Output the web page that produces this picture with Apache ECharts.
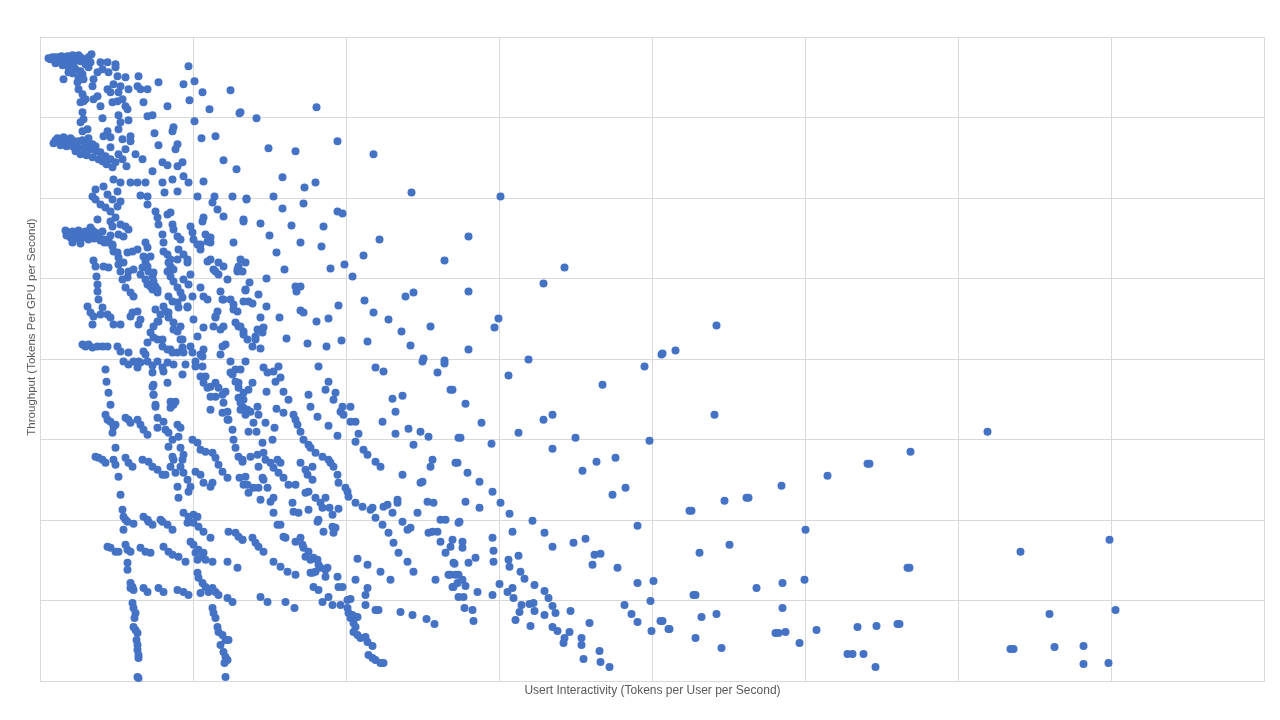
<!DOCTYPE html>
<html>
<head>
<meta charset="utf-8">
<script src="https://cdn.jsdelivr.net/npm/echarts@6/dist/echarts.min.js"></script>
<style>
  html, body { margin: 0; padding: 0; background: #fff; }
  #chart { width: 1280px; height: 720px; }
</style>
</head>
<body>
<div id="chart"></div>
<script>
// values, in the chart's own (unlabelled) units
const xTitle = 'Usert Interactivity (Tokens per User per Second)'
const yTitle = 'Throughput (Tokens Per GPU per Second)'

const topCluster = [
  [8,622],[12,623],[15,623],[18,623],[21,624],[24,623],[27,624],[30,623],[32,625],[35,624],[38,625],[40,623],
  [20,620],[25,619],[30,619],[35,620],[40,619],[45,621],[48,623],[51,626],[15,617],[22,615],[28,613],[35,611],
  [40,609],[32,607],[38,603],[42,606],[10,621],[17,620],[26,616],[33,615],[45,616],[50,618],[48,613],[30,611],
  [23,601],[28,608],[37,598],[40,604],[43,601],[38,591],[42,586],[43,579],[40,578],[45,581],[52,594],[53,601],
  [57,608],[60,618],[62,611],[67,618],[68,608],[75,616],[75,613],[77,604],[85,603],[98,604],[118,598],[148,614],
  [143,596],[154,599],[162,588],[190,590],[169,571],[199,567]
]

const upperBand = [
  [73,596],[80,594],[88,591],[78,588],[70,588],[67,591],[57,584],[53,581],[60,574],[72,578],[77,579],[82,581],
  [85,574],[87,571],[97,594],[100,591],[107,591],[103,578],[127,574],[149,580],[107,564],[112,565],[78,565],
  [62,562],[42,568],[43,561],[40,558],[88,560],[80,558],[78,551],[67,549],[90,544],[82,541],[70,543],[63,544],
  [42,549],[47,551],[114,547],[132,549],[133,553],[154,559],[161,542],[175,544],[118,535],[137,536],[135,531],
  [122,518],[127,515],[137,514],[142,518],[143,504],[132,501],[122,498],[112,509],[102,521],[95,526],[85,531],
  [90,539],[183,520],[196,511],[163,499],[148,498],[157,484],[174,484],[192,484],[206,482],[137,489],[124,488],
  [107,484],[100,485],[90,498],[97,498],[105,498],[80,498],[73,501],[63,494],[55,491],[52,484],[67,486],[77,489]
]

const secondCluster = [
  [15,540],[18,539],[22,540],[25,538],[28,539],[32,540],[35,538],[38,539],[42,540],[45,537],[48,538],[52,536],
  [55,534],[20,535],[26,534],[32,534],[38,533],[44,532],[50,531],[56,529],[60,528],[35,529],[40,526],[46,525],
  [52,523],[58,521],[62,519],[66,516],[70,521],[65,524],[72,513],[75,518],[70,533],[78,526],[82,521],[86,514],
  [13,537],[17,542],[23,543],[30,542],[48,542]
]

const thirdCluster = [
  [25,450],[28,448],[32,449],[35,447],[38,450],[42,448],[45,449],[48,447],[52,450],[55,448],[58,446],[62,449],
  [30,443],[36,442],[42,443],[48,441],[54,442],[60,440],[64,438],[68,441],[72,436],[70,445],[32,438],[40,437],
  [26,445],[50,453],
  [63,441],[68,438],[72,434],[73,429],[77,428],[78,423],[83,418],[87,428],[92,429],[97,431],[103,424],[105,419],
  [107,414],[108,409],[112,404],[113,399],[115,394],[117,391],[112,391],[107,396],[105,401],[100,406],[102,413],
  [93,411],[88,409],[87,403],[82,401],[85,393],[90,388],[93,384],[80,409],[78,416],[68,413],[63,414],[72,454],
  [70,459],[75,463],[80,456],[85,454],[88,451],[78,446],[83,444],
  [60,476],[65,473],[70,469],[77,474],[80,479],[57,461],[55,481],[72,481]
]

const leftColumns = [
  [55,414],[56,404],[57,396],[57,389],[58,381],[53,420],[47,374],[50,368],[53,364],[52,356],[62,373],[60,366],
  [67,366],[70,363],[73,356],[80,356],[42,336],[45,334],[48,336],[52,333],[57,334],[62,334],[67,334],[77,334],
  [80,329],[88,328],[90,364],[92,368],[97,369],[98,356],[100,361],
  [65,311],[66,299],[68,288],[70,276],[65,266],[67,261],[70,259],[73,254],[72,248],[75,256],
  [85,263],[88,261],[90,258],[97,261],[100,256],[103,251],[107,246],
  [55,224],[58,223],[62,221],[65,218],[73,221],[75,233],[75,216],[78,204],[80,186],[82,171],[85,223],[88,218],
  [92,214],[102,221],[108,219],[112,214],[117,211],[122,206],[125,206],[130,214],[133,221],
  [103,164],[107,161],[120,161],[83,164],[85,161],
  [87,159],[93,157],[83,151],[108,159],[112,156],[122,159],[127,156],[132,151],[147,158],[153,158],[158,154],
  [163,149],[170,143],[188,149],[195,148],[198,144],[202,141],
  [67,134],[70,133],[75,129],[78,129],[85,136],[87,131],[90,129],[100,133],[105,129],[110,128],[123,134],
  [128,129],[132,126],[138,124],[145,119],[150,139],[153,136],[155,128],[158,131],[162,124],[163,128],[157,121],
  [165,121],[172,119],[187,119],[197,113],[87,118],[87,111],[157,108],[158,103],
  [90,98],[92,94],[93,91],[90,93],[103,93],[107,89],[118,93],[123,89],[137,91],[143,89],[148,86],[160,88],
  [165,94],[168,89],[172,93],[175,89],[178,86],[162,98],[187,83],[192,79],
  [92,78],[93,73],[95,68],[93,54],[97,48],[95,51],[97,31],[98,26],[98,23],[97,4],[98,3],[94,63],[96,41],[97,36],
  [172,73],[173,68],[175,63],[177,54],[178,49],[182,46],[185,41],[188,41],[183,29],[185,24],[187,21],[185,4],
  [180,36],[184,18]
]

const innerBand = [
  [107,476],[115,469],[117,463],[118,456],[122,446],[123,438],[123,429],[127,426],[130,421],[130,414],[127,409],
  [130,404],[133,399],[137,393],[140,388],[142,383],[137,378],[128,384],[127,466],[130,468],[132,456],[133,451],
  [137,444],[138,431],[143,426],[147,421],[150,454],[152,448],[153,441],[157,436],[160,431],[162,459],[163,463],
  [170,443],[167,439],[170,421],[173,411],[178,406],[183,414],[187,401],[197,409],[198,414],[177,471],[183,464],
  [193,438],[172,478],[203,461],[190,381],[193,376],[197,369],[182,381],[175,363],[177,369],[173,354],[183,354],
  [198,354],[203,349],[163,353],[153,361],[157,344],[150,334],[152,328],[142,341],[140,354],[137,349],[133,358],
  [128,368],[123,374],[120,366],[117,359],[113,354],[110,348],[107,338],[103,329],[117,341],[122,334],[130,331],
  [137,328],[142,333],[163,331],[182,334],[180,326],[162,324],[143,401],[150,406],[160,393],[163,384],[167,381],
  [147,374],
  [105,438],[107,433],[110,424],[113,408],[110,394],[117,388],[128,418],[133,411],[137,421],[140,441],[147,418],
  [148,396],[152,384],[147,373],[138,373],[132,379],[125,369],[115,371],[118,359],[128,363],[133,351],[140,341],
  [143,328],[132,328],[127,331],[122,341],[113,343],[105,326],[98,319],[160,436],[167,419],[165,446],[170,438],
  [178,418],[175,409],[180,389],[175,364],[180,351],[185,336],[183,381],[193,371],[195,358],[197,411],[200,421],
  [205,391],[208,379],[217,351],[215,341],[205,319],[160,326],[155,319],[162,314],[165,304],[170,294],[175,284],
  [185,289],[190,308],[195,311],[198,298],[203,281],[200,271],[207,271],[170,271],[182,268],[187,261],[123,309],
  [127,298],[113,296],[113,286],[115,274],[130,279],[133,278],
  [83,319],[88,316],[93,319],[97,313],[100,318],[107,319],[112,315],[117,319],[122,313],[127,318],[133,316],
  [142,306],[145,316],[155,314],[160,304],[163,298],[167,293],[170,284],[175,298],[178,293],[182,286],[183,278],
  [187,269],[190,319],[192,306],[195,299],[198,293],[198,283],[203,273],[205,266],[188,261],[192,251],[193,241],
  [195,233],[198,224],[202,219],[199,203],[203,196],[208,188],
  [112,308],[112,294],[113,286],[115,276],[117,263],[117,253],[123,259],[125,251],[128,248],[132,241],[128,234],
  [132,224],[133,276],[135,279],[130,273],[137,256],[140,253],[138,244],[140,233],[143,226],[142,221],[140,214],
  [135,208],[143,208],[147,201],[150,194],[148,189],[137,194],[138,183],[143,168],[153,166],[148,164],[157,164],
  [152,241],[157,238],[160,231],[165,229],[172,228],[175,223],[178,216],[182,209],[187,203],[155,209],[160,206],
  [163,198],[170,194],[172,198]
]

const midField = [
  [200,568],[216,562],[276,573],[297,539],[333,526],[228,532],[255,529],[242,503],[264,493],[275,498],[206,481],
  [233,484],[263,477],[242,472],[297,469],[302,467],[371,488],[203,459],[220,457],[251,455],[283,454],[229,445],
  [260,438],[281,434],[339,441],[236,428],[323,425],[205,418],[202,409],[244,411],[290,412],[304,416],[312,404],
  [404,420],[226,402],[209,398],[255,394],[260,394],[256,389],[205,390],[218,386],[203,379],[212,377],[226,374],
  [260,370],[263,368],[298,375],[324,380],[365,384],[373,388],[333,368],[348,361],[220,363],[239,363],[276,359],
  [288,362],[200,354],[223,353],[222,348],[203,346],[215,344],[207,341],[246,342],[267,337],[286,334],[301,340],
  [327,339],[361,349],[370,335],[390,354],[212,334],[220,332],[383,322],[404,320]
]

const lowerField = [
  [200,311],[223,313],[227,308],[233,309],[238,314],[235,299],[240,303],[278,314],[335,313],[343,309],[382,319],
  [397,308],[404,317],[212,298],[208,291],[203,288],[226,289],[243,289],[248,281],[268,286],[288,299],[285,291],
  [295,288],[293,281],[352,282],[362,285],[410,291],[355,269],[200,278],[205,271],[210,269],[217,274],[218,266],
  [236,272],[243,268],[253,266],[255,261],[270,274],[277,264],[302,274],[300,269],[303,266],[310,274],[310,259],
  [315,259],[342,259],[213,258],[208,249],[216,249],[225,258],[234,253],[257,256],[260,249],[288,255],[297,245],
  [318,247],[315,239],[355,247],[368,252],[380,249],[388,244],[373,236],[418,243],[222,238],[232,241],[263,241],
  [268,236],[270,233],[275,228],[282,224],[288,221],[290,218],[293,214],[297,206],[298,198],[323,231],[327,226],
  [335,219],[340,214],[392,221],[390,214],[415,218],[202,221],[210,224],[217,226],[223,228],[225,221],[230,218],
  [233,213],[237,221],[240,218],[238,208],[243,203],[248,196],[255,196],[218,214],[222,203],[223,201],[205,204],
  [207,196],[213,193],[218,193],[227,193],[230,179],[220,181],[233,183],[260,218],[265,211],[267,206],[272,214],
  [272,201],[268,189],[265,188],[275,183],[280,178],[285,183],[282,173],[289,173],[292,166],[298,172],[252,178],
  [253,169],[258,168],[268,171],[233,168],[237,156],[240,156],[278,161],[277,159],[283,149],[292,154],[293,148],
  [295,153],[305,193],[307,189],[308,184],[315,178],[322,174],[330,171],[332,173],[335,163],[342,156],[348,148],
  [353,138],[358,128],[367,119],[373,109],[343,174],[347,176],[352,168],[357,178],[362,159],[367,151],[370,153],
  [377,168],[387,179],[393,178],[380,198],[382,199],[362,206],[357,181],[388,148],[397,149],[392,149],[400,161],
  [405,161],[418,158],[400,139],[405,128],[410,134],[413,118],[415,106],[408,106],[412,94],[417,98],[395,101],
  [418,84],[202,141],[212,143],[215,138],[218,134],[223,129],[233,119],[240,114],[247,109],[255,106],[243,144],
  [245,143],[255,139],[260,143],[262,136],[263,133],[265,124],[268,129],[270,121],[273,123],[277,121],[278,116],
  [280,113],[285,111],[287,113],[272,108],[270,108],[275,109],[285,104],[297,104],[298,94],[302,94],[273,94],
  [278,91],[282,79],[288,84],[292,76],[300,76],[307,81],[310,82],[307,73],[315,101],[317,122],[327,116],[327,93],
  [325,86],[325,76],[340,109],[350,101],[335,71],[338,71],[360,69],[372,66],[386,62],[394,57],[220,84],[227,79],
  [245,79],[254,73],[308,68],[310,63],[313,58],[315,54],[313,49],[317,46],[320,43],[325,44],[327,39],[332,35],
  [328,26],[332,23],[335,21],[340,18],[343,18],[317,64],[312,66]
]

const rightField = [
  [460,484],[428,444],[524,413],[428,389],[503,397],[458,362],[454,353],[428,331],[488,321],[468,305],[412,291],
  [425,277],[441,258],[512,266],[503,261],[478,248],[420,243],[451,237],[535,243],[512,232],[417,218],[427,208],
  [439,199],[452,189],[460,178],[425,179],[439,173],[469,167],[419,159],[492,160],[472,149],[504,148],[412,141],
  [422,139],[422,133],[452,143],[453,130],[512,134],[533,138],[545,142],[435,123],[428,118],[414,117],[453,119],
  [468,121],[478,125],[469,114],[554,126],[560,127],[552,116],[577,113],[410,106],[418,106],[422,101],[413,94],
  [425,95],[437,89],[459,97],[467,89],[472,93],[480,109],[484,102],[494,96],[504,90],[508,83],[473,83],[452,86],
  [423,84],[481,76],[489,77],[493,78],[512,75],[515,68],[504,66],[494,70],[479,69],[475,61],[490,55],[512,54],
  [517,50],[530,70],[529,49],[524,43],[523,38],[541,43],[541,36],[543,22],[549,58],[559,30],[560,19],[569,14],
  [424,73],[432,71],[433,60],[584,76],[591,67],[597,59],[597,98],[613,100],[610,80],[611,50],[620,60],[628,52],
  [604,314],[562,296],[621,326],[609,240],[575,223],[556,219],[542,210],[585,193],[572,186],[597,155]
]

const farRight = [
  [676,355],[622,327],[635,330],[674,266],[870,229],[827,217],[829,217],[787,205],[741,195],[706,183],[708,183],
  [684,180],[649,170],[651,170],[765,151],[689,136],[659,128],[867,113],[869,113],[742,98],[764,101],[716,93],
  [653,86],[655,86],[742,73],[622,60],[629,52],[661,64],[676,67],[655,43],[681,33],[735,48],[738,48],[745,49],
  [759,38],[776,51],[807,27],[812,27],[823,27],[835,14],[817,54],[836,55],[857,57],[859,57],
  [947,249],[1069,141],[980,129],[1009,67],[1075,71],[970,32],[973,32],[1014,34],[1043,35],[1043,17],[1068,18]
]

const points = [].concat(topCluster, upperBand, secondCluster, thirdCluster, leftColumns,
  innerBand, midField, lowerField, rightField, farRight)

const gridColor = '#d9d9d9'
const textColor = '#595959'

const chart = echarts.init(document.getElementById('chart'))
chart.setOption({
  animation: false,
  grid: { left: 40.5, right: 15.5, top: 37, bottom: 39 },
  xAxis: {
    type: 'value',
    min: 0,
    max: 1224,
    interval: 153,
    name: xTitle,
    nameLocation: 'middle',
    nameGap: 4,
    nameTextStyle: { color: textColor, fontFamily: 'Liberation Sans', fontSize: 12, verticalAlign: 'top' },
    axisLine: { show: true, lineStyle: { color: gridColor } },
    axisTick: { show: false },
    axisLabel: { show: false },
    splitLine: { show: true, lineStyle: { color: gridColor, width: 1 } }
  },
  yAxis: {
    type: 'value',
    min: 0,
    max: 643.2,
    interval: 80.4,
    name: yTitle,
    nameLocation: 'middle',
    nameGap: 3,
    nameTextStyle: { color: textColor, fontFamily: 'Liberation Sans', fontSize: 11.5, padding: [0, 0, 0, 64] },
    axisLine: { show: true, lineStyle: { color: gridColor } },
    axisTick: { show: false },
    axisLabel: { show: false },
    splitLine: { show: true, lineStyle: { color: gridColor, width: 1 } }
  },
  series: [{
    type: 'scatter',
    symbolSize: 8,
    itemStyle: { color: '#4472c4', opacity: 1 },
    data: points
  }]
})
</script>
</body>
</html>
